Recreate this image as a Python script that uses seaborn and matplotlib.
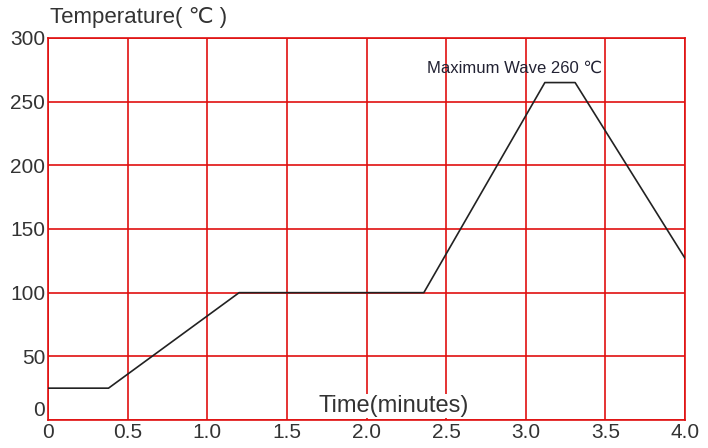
import matplotlib
matplotlib.use('Agg')
import matplotlib.pyplot as plt
import seaborn as sns
import pandas as pd

# profile points
time_min = [0, 0.38, 1.2, 2.36, 3.12, 3.31, 4.0]
temp_c = [25, 25, 100, 100, 265, 265, 127]
x_ticks = [0, 0.5, 1.0, 1.5, 2.0, 2.5, 3.0, 3.5, 4.0]
x_labels = ['0', '0.5', '1.0', '1.5', '2.0', '2.5', '3.0', '3.5', '4.0']
y_ticks = [0, 50, 100, 150, 200, 250, 300]

df = pd.DataFrame({'time': time_min, 'temp': temp_c})

sns.set_style('white')
plt.rcParams['font.family'] = ['Liberation Sans', 'DejaVu Sans', 'Noto Sans CJK SC']

fig = plt.figure(figsize=(7.08, 4.48), dpi=100)
ax = fig.add_axes([48 / 708, 28 / 448, 637 / 708, 382 / 448])

red = '#e01010'
for xv in x_ticks:
    ax.axvline(xv, color=red, lw=1.2, zorder=1)
for yv in y_ticks:
    ax.axhline(yv, color=red, lw=1.2, zorder=1)

sns.lineplot(data=df, x='time', y='temp', color='#222222', lw=1.2, ax=ax, zorder=3)

ax.set_xlim(0, 4.0)
ax.set_ylim(0, 300)
ax.set_xticks(x_ticks)
ax.set_xticklabels(x_labels)
ax.set_yticks(y_ticks)
ax.tick_params(axis='both', length=0, labelsize=15, labelcolor='#333333')
ax.tick_params(axis='y', pad=2)
ax.tick_params(axis='x', pad=2)
# nudge the bottom y label up so it clears the x "0"
ax.get_yticklabels()[0].set_va('bottom')
for s in ax.spines.values():
    s.set_color(red)
    s.set_linewidth(1.2)
ax.set_xlabel('')
ax.set_ylabel('')

ax.text(2.38, 276, 'Maximum Wave 260 \u2103', fontsize=12, color='#222233',
        va='center', ha='left', zorder=4)
ax.text(2.17, 11, 'Time(minutes)', fontsize=17, color='#333333', ha='center', va='center',
        zorder=4, bbox=dict(facecolor='white', edgecolor='none', pad=1))
fig.text(50 / 708, 1 - 18 / 448, 'Temperature( \u2103 )', fontsize=16, color='#333333',
         ha='left', va='center')

fig.savefig('out.png', dpi=100)
